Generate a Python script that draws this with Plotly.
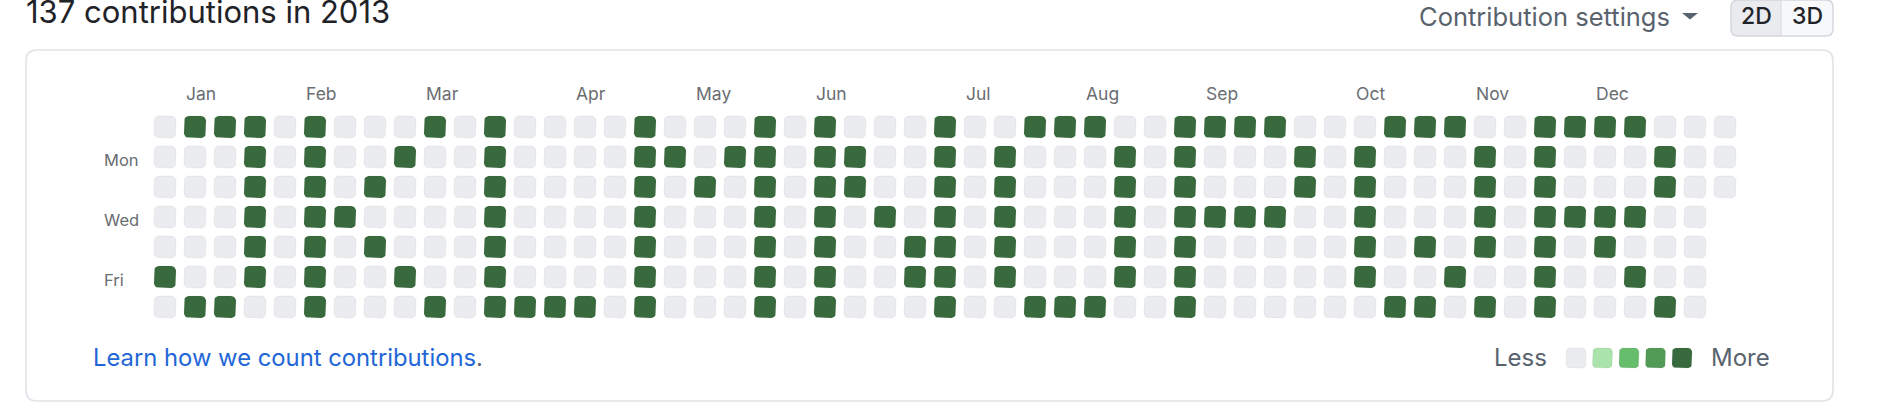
import plotly.graph_objects as go
import pandas as pd
import math

# ---------------- data ----------------
title_text = "137 contributions in 2013"
start_date = "2012-12-30"   # Sunday of the first displayed week
end_date = "2013-12-31"

month_labels = ["Jan", "Feb", "Mar", "Apr", "May", "Jun",
                "Jul", "Aug", "Sep", "Oct", "Nov", "Dec"]
month_cols = [1, 5, 9, 14, 18, 22, 27, 31, 35, 40, 44, 48]

weekday_labels = ["Mon", "Wed", "Fri"]
weekday_label_rows = [1, 3, 5]

# week (column) indices that have contributions, per weekday row
sun_weeks = [1, 2, 3, 5, 9, 11, 16, 20, 22, 26, 29, 30, 31, 34, 35, 36, 37, 41, 42, 43, 46, 47, 48, 49]
mon_weeks = [3, 5, 8, 11, 16, 17, 19, 20, 22, 23, 26, 28, 32, 34, 38, 40, 44, 46, 50]
tue_weeks = [3, 5, 7, 11, 16, 18, 20, 22, 23, 26, 28, 32, 34, 38, 40, 44, 46, 50]
wed_weeks = [3, 5, 6, 11, 16, 20, 22, 24, 26, 28, 32, 34, 35, 36, 37, 40, 44, 46, 47, 48, 49]
thu_weeks = [3, 5, 7, 11, 16, 20, 22, 25, 26, 28, 32, 34, 40, 42, 44, 46, 48]
fri_weeks = [0, 3, 5, 8, 11, 16, 20, 22, 25, 26, 28, 32, 34, 40, 43, 46, 49]
sat_weeks = [1, 2, 5, 9, 11, 12, 13, 14, 16, 20, 22, 26, 29, 30, 31, 34, 41, 42, 44, 46, 50]
active_level = 4

legend_levels = [0, 1, 2, 3, 4]
level_colors = ["#ebecf0", "#aae3ab", "#66bd6b", "#529b57", "#386a3d"]

# ---------------- geometry ----------------
W, H = 1896, 408
PITCH = 30
CELL = 22
RADIUS = 5
X0 = 154   # left edge of first column (px)
Y0 = 116   # top edge of first row (px)
FONT = "Inter, 'Noto Sans', Arial, sans-serif"

def px_to_x(px):
    return (px - (X0 + CELL / 2)) / PITCH

def py_to_y(py):
    return (py - (Y0 + CELL / 2)) / PITCH

def fx(px):
    return px / W

def fy(py):
    return 1 - py / H

def rounded(cx, cy, half, r, n=6):
    xs, ys = [], []
    corners = [(cx + half - r, cy - half + r, -90, 0),
               (cx + half - r, cy + half - r, 0, 90),
               (cx - half + r, cy + half - r, 90, 180),
               (cx - half + r, cy - half + r, 180, 270)]
    for ccx, ccy, a0, a1 in corners:
        for k in range(n + 1):
            a = math.radians(a0 + (a1 - a0) * k / n)
            xs.append(ccx + r * math.cos(a))
            ys.append(ccy + r * math.sin(a))
    xs.append(xs[0]); ys.append(ys[0])
    return xs, ys

# ---------------- calendar ----------------
dates = pd.date_range(start_date, end_date, freq="D")
rows_active = [sun_weeks, mon_weeks, tue_weeks, wed_weeks, thu_weeks, fri_weeks, sat_weeks]
cells = {}
for i, d in enumerate(dates):
    col, row = i // 7, i % 7
    cells[(col, row)] = active_level if col in rows_active[row] else 0

fig = go.Figure()

half = CELL / 2 / PITCH
rad = RADIUS / PITCH
for lvl in sorted(set(cells.values())):
    xs, ys = [], []
    for (col, row), v in cells.items():
        if v != lvl:
            continue
        px, py = rounded(col, row, half, rad)
        xs += px + [None]
        ys += py + [None]
    fig.add_trace(go.Scatter(
        x=xs, y=ys, mode="lines", fill="toself",
        fillcolor=level_colors[lvl],
        line=dict(color="rgba(31,35,40,0.06)", width=1),
        hoverinfo="skip", showlegend=False))

# legend swatches
LEG_X0 = 1566
LEG_PITCH = 26.5
LEG_SIZE = 20
LEG_CY = 358
for i, lvl in enumerate(legend_levels):
    cxp = LEG_X0 + LEG_SIZE / 2 + i * LEG_PITCH
    px, py = rounded(px_to_x(cxp), py_to_y(LEG_CY), LEG_SIZE / 2 / PITCH, 4 / PITCH)
    fig.add_trace(go.Scatter(
        x=px, y=py, mode="lines", fill="toself",
        fillcolor=level_colors[lvl],
        line=dict(color="rgba(31,35,40,0.06)", width=1),
        hoverinfo="skip", showlegend=False))

annotations = []
# month labels
for lab, c in zip(month_labels, month_cols):
    annotations.append(dict(x=c - half, y=fy(94), xref="x", yref="paper",
                            text=lab, showarrow=False, xanchor="left", yanchor="middle",
                            font=dict(family=FONT, size=17.5, color="#6a6d72")))
# weekday labels
for lab, r in zip(weekday_labels, weekday_label_rows):
    annotations.append(dict(x=fx(102), y=r + 3 / PITCH, xref="paper", yref="y",
                            text=lab, showarrow=False, xanchor="left", yanchor="middle",
                            font=dict(family=FONT, size=16.5, color="#6a6d72")))
# title (cut at the top edge, as in the original screenshot)
annotations.append(dict(x=fx(24), y=fy(11), xref="paper", yref="paper",
                        text=title_text, showarrow=False, xanchor="left", yanchor="middle",
                        font=dict(family=FONT, size=31, color="#1f2328")))
# contribution settings
annotations.append(dict(x=fx(1418), y=fy(0), xref="paper", yref="paper",
                        text="Contribution settings", showarrow=False, xanchor="left", yanchor="top",
                        borderpad=0,
                        font=dict(family=FONT, size=25.5, color="#59636e")))
# 2D / 3D
annotations.append(dict(x=fx(1756), y=fy(16), xref="paper", yref="paper",
                        text="2D", showarrow=False, xanchor="center", yanchor="middle",
                        font=dict(family=FONT, size=23, color="#1f2328", weight=500)))
annotations.append(dict(x=fx(1807), y=fy(16), xref="paper", yref="paper",
                        text="3D", showarrow=False, xanchor="center", yanchor="middle",
                        font=dict(family=FONT, size=23, color="#1f2328", weight=500)))
# learn link
annotations.append(dict(x=fx(91), y=fy(357), xref="paper", yref="paper",
                        text='<span style="color:#1f66d6">Learn how we count contributions</span>.',
                        showarrow=False, xanchor="left", yanchor="middle",
                        font=dict(family=FONT, size=23.8, color="#59636e")))
# less / more
annotations.append(dict(x=fx(1549), y=fy(357), xref="paper", yref="paper",
                        text="Less", showarrow=False, xanchor="right", yanchor="middle",
                        font=dict(family=FONT, size=24, color="#59636e")))
annotations.append(dict(x=fx(1709), y=fy(357), xref="paper", yref="paper",
                        text="More", showarrow=False, xanchor="left", yanchor="middle",
                        font=dict(family=FONT, size=24, color="#59636e")))

def rrect_path(x0, y0, x1, y1, r, tl=True, tr=True, br=True, bl=True):
    rx, ry = r / W, r / H
    X0p, X1p = fx(x0), fx(x1)
    Y0p, Y1p = fy(y0), fy(y1)
    p = []
    p.append(f"M {X0p + (rx if tl else 0)},{Y0p}")
    p.append(f"L {X1p - (rx if tr else 0)},{Y0p}")
    if tr:
        p.append(f"Q {X1p},{Y0p} {X1p},{Y0p - ry}")
    p.append(f"L {X1p},{Y1p + (ry if br else 0)}")
    if br:
        p.append(f"Q {X1p},{Y1p} {X1p - rx},{Y1p}")
    p.append(f"L {X0p + (rx if bl else 0)},{Y1p}")
    if bl:
        p.append(f"Q {X0p},{Y1p} {X0p},{Y1p + ry}")
    p.append(f"L {X0p},{Y0p - (ry if tl else 0)}")
    if tl:
        p.append(f"Q {X0p},{Y0p} {X0p + rx},{Y0p}")
    p.append("Z")
    return " ".join(p)

shapes = []
# card
shapes.append(dict(type="path", xref="paper", yref="paper",
                   path=rrect_path(26, 50, 1833, 401, 11),
                   line=dict(color="#e1e3e8", width=1.6), fillcolor="rgba(0,0,0,0)", layer="below"))
# 2D/3D button
shapes.append(dict(type="path", xref="paper", yref="paper",
                   path=rrect_path(1731, 0, 1833, 36, 7),
                   line=dict(width=0), fillcolor="#f6f8fa", layer="below"))
shapes.append(dict(type="path", xref="paper", yref="paper",
                   path=rrect_path(1731, 0, 1781, 36, 7, tr=False, br=False),
                   line=dict(width=0), fillcolor="#e9ebef", layer="below"))
shapes.append(dict(type="path", xref="paper", yref="paper",
                   path=rrect_path(1731, 0, 1833, 36, 7),
                   line=dict(color="#d3d6dc", width=1.4), fillcolor="rgba(0,0,0,0)", layer="below"))
shapes.append(dict(type="line", xref="paper", yref="paper",
                   x0=fx(1781), x1=fx(1781), y0=fy(0), y1=fy(36),
                   line=dict(color="#d8dbe0", width=1), layer="below"))
# caret
shapes.append(dict(type="path", xref="paper", yref="paper",
                   path=f"M {fx(1682)},{fy(13)} L {fx(1698)},{fy(13)} L {fx(1690)},{fy(19.5)} Z",
                   line=dict(width=0), fillcolor="#59636e"))

fig.update_layout(
    width=W, height=H, autosize=False,
    margin=dict(l=0, r=0, t=0, b=0),
    paper_bgcolor="white", plot_bgcolor="white",
    xaxis=dict(range=[px_to_x(0), px_to_x(W)], visible=False, fixedrange=True),
    yaxis=dict(range=[py_to_y(H), py_to_y(0)], visible=False, fixedrange=True),
    annotations=annotations, shapes=shapes,
    showlegend=False,
)

fig.write_html("out.html", config={"displayModeBar": False},
               post_script="document.body.style.margin='0';document.body.style.overflow='hidden';")
